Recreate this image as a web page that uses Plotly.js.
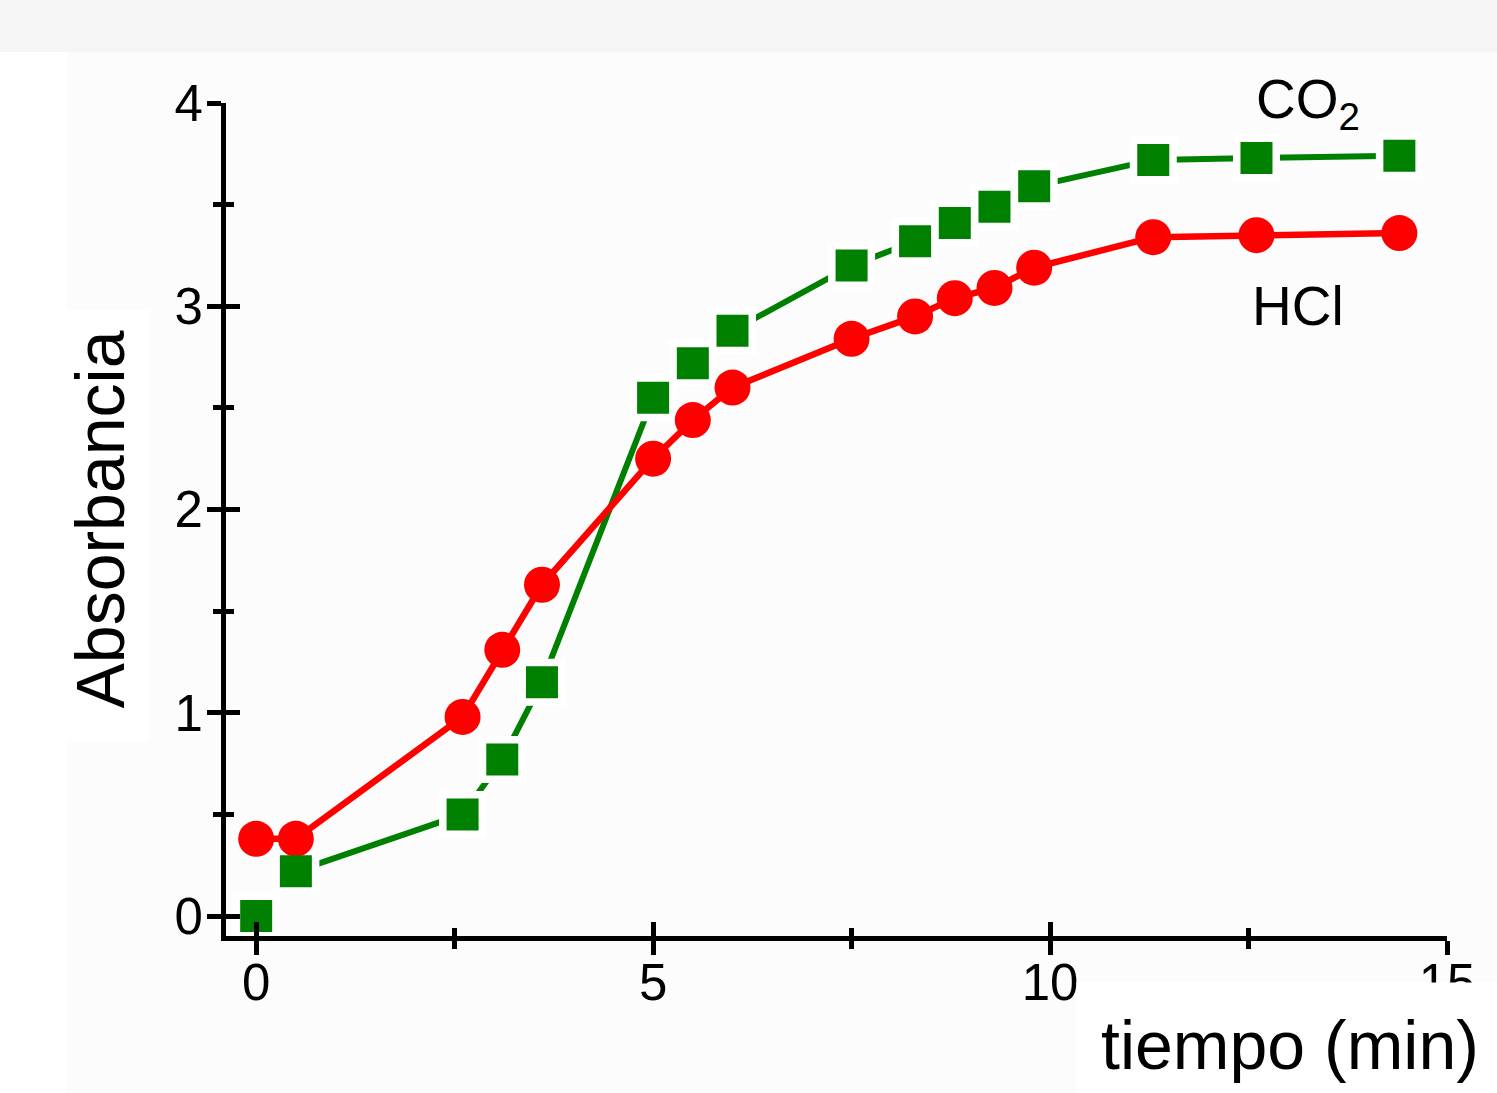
<!DOCTYPE html>
<html>
<head>
<meta charset="utf-8">
<script src="https://cdn.plot.ly/plotly-3.0.1.min.js"></script>
<style>html,body{margin:0;padding:0;background:#fff;}#chart{width:1497px;height:1093px;}</style>
</head>
<body>
<div id="chart"></div>
<script>
// Data
const tiempo = [0, 0.5, 2.6, 3.1, 3.6, 5.0, 5.5, 6.0, 7.5, 8.3, 8.8, 9.3, 9.8, 11.3, 12.6, 14.4];
const hcl    = [0.38, 0.38, 0.98, 1.31, 1.63, 2.25, 2.44, 2.60, 2.84, 2.95, 3.04, 3.09, 3.19, 3.34, 3.35, 3.36];
const co2    = [0.00, 0.22, 0.50, 0.77, 1.15, 2.55, 2.72, 2.88, 3.20, 3.32, 3.41, 3.49, 3.59, 3.72, 3.73, 3.74];
const xTicks = [0, 5, 10, 15];
const xMinor = [2.5, 7.5, 12.5];
const yTicks = [0, 1, 2, 3, 4];
const yMinor = [0.5, 1.5, 2.5, 3.5];

const FONT = 'Liberation Sans, Arial, sans-serif';
const RED = '#ff0000';
const GREEN = '#008000';
const xRange = [-0.38, 15];
const yRange = [-0.098, 4];

const traces = [
  { x: tiempo, y: co2, mode: 'lines', line: {color: GREEN, width: 6}, hoverinfo: 'skip', showlegend: false, name: 'CO2 line' },
  { x: tiempo, y: co2, mode: 'markers', marker: {symbol: 'square', size: 47, color: '#ffffff'}, hoverinfo: 'skip', showlegend: false, name: 'gap' },
  { x: tiempo, y: hcl, mode: 'lines+markers', name: 'HCl', line: {color: RED, width: 6.5}, marker: {symbol: 'circle', size: 36, color: RED}, showlegend: false },
  { x: tiempo, y: co2, mode: 'markers', name: 'CO2', xaxis: 'x2', yaxis: 'y2', marker: {symbol: 'square', size: 32, color: GREEN}, showlegend: false }
];

const axisCommon = {
  showgrid: false, zeroline: false, showline: true, linecolor: '#000', linewidth: 5,
  ticks: 'outside', ticklen: 14, tickwidth: 5, tickcolor: '#000',
  tickfont: {family: FONT, size: 51, color: '#000'}
};

const layout = {
  width: 1497, height: 1093,
  margin: {l: 226, r: 50, t: 103, b: 157, pad: 0},
  paper_bgcolor: '#ffffff',
  plot_bgcolor: 'rgba(0,0,0,0)',
  showlegend: false,
  xaxis: Object.assign({}, axisCommon, {
    range: xRange, tickmode: 'array', tickvals: xTicks, ticktext: xTicks.map(String),
    ticklabelstandoff: -16,
    minor: {tickmode: 'array', tickvals: xMinor, ticks: 'outside', ticklen: 8, tickwidth: 5, tickcolor: '#000', showgrid: false}
  }),
  yaxis: Object.assign({}, axisCommon, {
    range: yRange, tickmode: 'array', tickvals: yTicks, ticktext: yTicks.map(String),
    ticklabelstandoff: -6,
    minor: {tickmode: 'array', tickvals: yMinor, ticks: 'outside', ticklen: 8, tickwidth: 5, tickcolor: '#000', showgrid: false},
    title: {text: 'Absorbancia', font: {family: FONT, size: 68, color: '#000'}, standoff: 29}
  }),
  xaxis2: {
    overlaying: 'x', anchor: 'y2', range: xRange, showgrid: false, zeroline: false, showline: false,
    ticks: 'inside', ticklen: 14, tickwidth: 5, tickcolor: '#000', showticklabels: false,
    tickmode: 'array', tickvals: xTicks,
    minor: {tickmode: 'array', tickvals: xMinor, ticks: 'inside', ticklen: 8, tickwidth: 5, tickcolor: '#000', showgrid: false}
  },
  yaxis2: {
    overlaying: 'y', anchor: 'x2', range: yRange, showgrid: false, zeroline: false, showline: false,
    ticks: 'inside', ticklen: 14, tickwidth: 5, tickcolor: '#000', showticklabels: false,
    tickmode: 'array', tickvals: yTicks,
    minor: {tickmode: 'array', tickvals: yMinor, ticks: 'inside', ticklen: 8, tickwidth: 5, tickcolor: '#000', showgrid: false}
  },
  shapes: [
    {type: 'rect', xref: 'paper', yref: 'paper', x0: -0.2, x1: 1.05, y0: 1.0612, y1: 1.13, fillcolor: '#f5f5f5', line: {width: 0}, layer: 'below'},
    {type: 'rect', xref: 'paper', yref: 'paper', x0: -0.131, x1: 1.05, y0: -0.2, y1: 1.0612, fillcolor: '#fcfcfc', line: {width: 0}, layer: 'below'},
    {type: 'rect', xref: 'paper', yref: 'paper', x0: -0.149, x1: -0.0623, y0: 0.235, y1: 0.752, fillcolor: '#ffffff', line: {width: 0}, layer: 'below'}
  ],
  annotations: [
    {text: 'CO<sub>2</sub>', xref: 'x', yref: 'y', x: 13.25, y: 4.0, showarrow: false, xanchor: 'center', yanchor: 'middle',
     font: {family: FONT, size: 55, color: '#000'}},
    {text: 'HCl', xref: 'x', yref: 'y', x: 13.12, y: 3.0, showarrow: false, xanchor: 'center', yanchor: 'middle',
     font: {family: FONT, size: 55, color: '#000'}},
    {text: 'tiempo (min)', xref: 'paper', yref: 'paper', x: 1.0467, y: -0.1309, showarrow: false, xanchor: 'right', yanchor: 'middle',
     bgcolor: '#ffffff', borderpad: 24, font: {family: FONT, size: 68, color: '#000'}}
  ]
};

Plotly.newPlot('chart', traces, layout, {displayModeBar: false, staticPlot: true});
</script>
</body>
</html>
